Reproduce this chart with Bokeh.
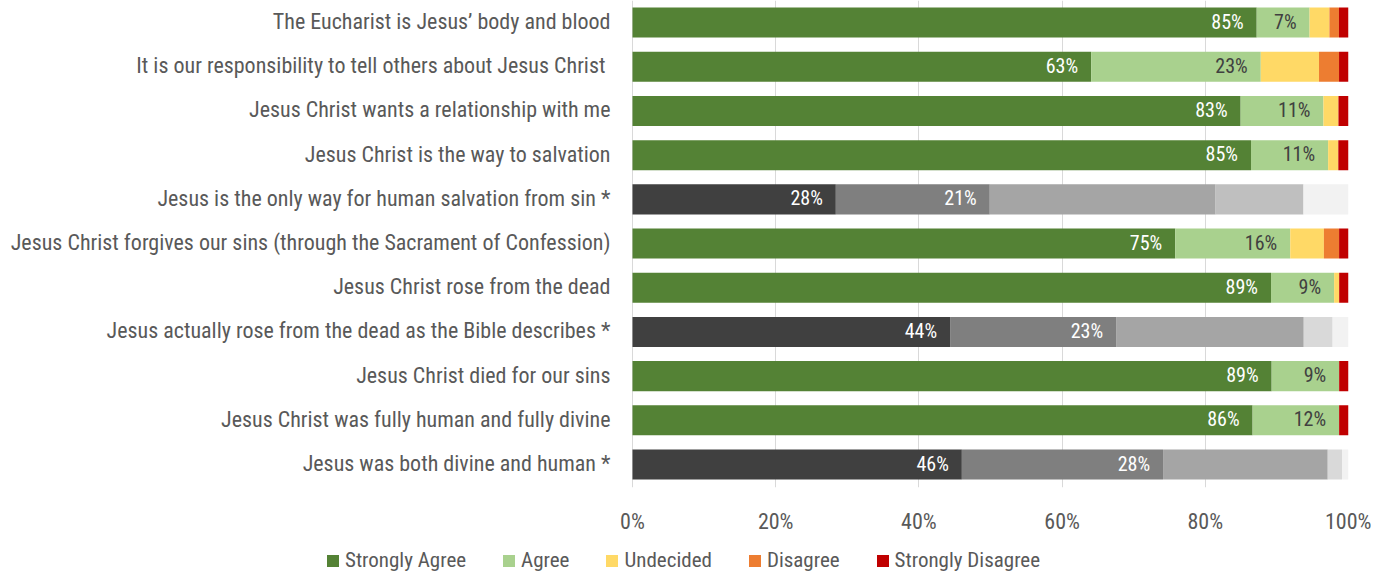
from bokeh.plotting import figure
from bokeh.models import (Range1d, FixedTicker, ColumnDataSource, Legend, LegendItem, LabelSet)
from bokeh.layouts import column
from bokeh.core.properties import value
from bokeh.embed import file_html
from bokeh.resources import INLINE

statements = [
    "The Eucharist is Jesus\u2019 body and blood",
    "It is our responsibility to tell others about Jesus Christ ",
    "Jesus Christ wants a relationship with me",
    "Jesus Christ is the way to salvation",
    "Jesus is the only way for human salvation from sin *",
    "Jesus Christ forgives our sins (through the Sacrament of Confession)",
    "Jesus Christ rose from the dead",
    "Jesus actually rose from the dead as the Bible describes *",
    "Jesus Christ died for our sins",
    "Jesus Christ was fully human and fully divine",
    "Jesus was both divine and human *",
]

strongly_agree    = [85, 63, 83, 85, 0, 75, 89, 0, 89, 86, 0]
agree             = [7.2, 23.3, 11.3, 10.6, 0, 15.9, 8.8, 0, 9.4, 12.0, 0]
undecided         = [2.7, 8.0, 2.05, 1.4, 0, 4.65, 0.7, 0, 0, 0, 0]
disagree          = [1.3, 2.75, 0, 0, 0, 2.1, 0, 0, 0, 0, 0]
strongly_disagree = [1.3, 1.3, 1.37, 1.4, 0, 1.3, 1.3, 0, 1.3, 1.3, 0]
gray1 = [0, 0, 0, 0, 28, 0, 0, 44, 0, 0, 46]
gray2 = [0, 0, 0, 0, 21.2, 0, 0, 23.0, 0, 0, 28.1]
gray3 = [0, 0, 0, 0, 31.1, 0, 0, 26.0, 0, 0, 23.0]
gray4 = [0, 0, 0, 0, 12.1, 0, 0, 0, 0, 0, 0]
gray5 = [0, 0, 0, 0, 0, 0, 0, 4.0, 0, 0, 2.0]
gray6 = [0, 0, 0, 0, 6.2, 0, 0, 2.2, 0, 0, 0.9]

legend_labels = ["Strongly Agree", "Agree", "Undecided", "Disagree", "Strongly Disagree"]
x_ticks = [0, 20, 40, 60, 80, 100]

series = [strongly_agree, agree, undecided, disagree, strongly_disagree,
          gray1, gray2, gray3, gray4, gray5, gray6]
names = ["sa", "ag", "un", "di", "sd", "g1", "g2", "g3", "g4", "g5", "g6"]
colors = ["#548235", "#a9d18e", "#ffd966", "#ed7d31", "#c00000",
          "#404040", "#7f7f7f", "#a5a5a5", "#bfbfbf", "#d9d9d9", "#f2f2f2"]

FONT = "Roboto Condensed"

n = len(statements)
totals = [sum(s[i] for s in series) for i in range(n)]
data = {"y": list(range(n))}
for nm, s in zip(names, series):
    data[nm] = [s[i] / totals[i] * 100 for i in range(n)]
source = ColumnDataSource(data)

# frame spans from the left edge to the 100% line; 0% sits at 632 px
p = figure(width=1371, height=545, output_backend="svg", toolbar_location=None,
           x_range=Range1d(-88.268, 100), y_range=Range1d(10.52, -0.5),
           y_axis_location=None,
           min_border_left=0, min_border_right=23, min_border_top=0, min_border_bottom=58)
p.outline_line_color = None

rs = p.hbar_stack(names, y="y", height=0.68, color=colors, source=source, line_width=0)

# category labels
csrc = ColumnDataSource(dict(x=[0] * n, y=list(range(n)), t=statements))
p.add_layout(LabelSet(x="x", y="y", text="t", source=csrc, text_color="#595959",
                      text_align="right", text_baseline="middle", x_offset=-22, y_offset=1,
                      text_font=value(FONT), text_font_size="22px"))

# value labels
lx, ly, lt, lc = [], [], [], []
label_series = {"sa": "white", "ag": "#404040", "g1": "white", "g2": "white"}
for i in range(n):
    cum = 0
    for nm, s in zip(names, series):
        cum += data[nm][i]
        if nm in label_series and s[i] > 0:
            lx.append(cum)
            ly.append(i)
            lt.append(f"{round(s[i])}%")
            lc.append(label_series[nm])
lsrc = ColumnDataSource(dict(x=lx, y=ly, t=lt, c=lc))
p.add_layout(LabelSet(x="x", y="y", text="t", source=lsrc, text_color="c",
                      text_align="right", text_baseline="middle", x_offset=-13, y_offset=1,
                      text_font=value(FONT), text_font_size="20px"))

p.xaxis.ticker = FixedTicker(ticks=x_ticks)
p.xaxis.major_label_overrides = {t: f"{t}%" for t in x_ticks}
p.xaxis.axis_line_color = None
p.xaxis.major_tick_line_color = None
p.xaxis.minor_tick_line_color = None
p.xaxis.major_label_text_font = FONT
p.xaxis.major_label_text_font_size = "22px"
p.xaxis.major_label_text_color = "#595959"
p.xaxis.major_label_standoff = 15

p.xgrid.ticker = FixedTicker(ticks=x_ticks)
p.xgrid.grid_line_color = "#d9d9d9"
p.ygrid.visible = False

# legend strip below the chart
lg = figure(width=1371, height=27, output_backend="svg", toolbar_location=None,
            x_range=Range1d(0, 1), y_range=Range1d(0, 1),
            x_axis_location=None, y_axis_location=None,
            min_border_left=0, min_border_right=23, min_border_top=0, min_border_bottom=0)
lg.outline_line_color = None
lg.grid.visible = False
offscreen = ColumnDataSource(dict(y=[-10], left=[0], right=[0]))
lrs = [lg.hbar(y="y", left="left", right="right", height=0.5, color=colors[k],
               line_width=0, source=offscreen) for k in range(5)]
items = [LegendItem(label=legend_labels[k], renderers=[lrs[k]]) for k in range(5)]
legend = Legend(items=items, orientation="horizontal", location=(325, 0),
                label_text_font=FONT, label_text_font_size="21px", label_text_color="#595959",
                glyph_width=15, glyph_height=15, label_standoff=5, spacing=35,
                border_line_color=None, background_fill_alpha=0, padding=0, margin=0)
lg.add_layout(legend)

open("out.html", "w").write(file_html(column(p, lg, spacing=0), INLINE))
